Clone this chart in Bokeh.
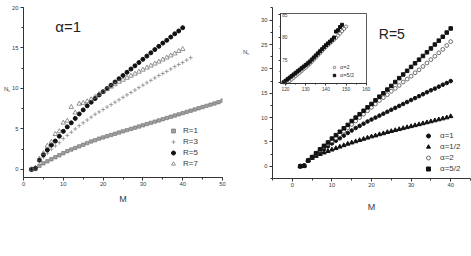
from bokeh.plotting import figure
from bokeh.models import (GridBox, Legend, LegendItem, Label, SingleIntervalTicker, Range1d, Div)
from bokeh.embed import file_html
from bokeh.resources import INLINE

FONT = "Liberation Sans"

# ---------------- Left panel: alpha = 1, several R ----------------
m_r1 = list(range(2, 51))
n_r1 = [0.0, 0.05, 0.45, 0.75, 1.0, 1.25, 1.5, 1.75, 2.0, 2.25,
        2.45, 2.65, 2.85, 3.05, 3.25, 3.45, 3.6, 3.8, 3.95, 4.1,
        4.25, 4.4, 4.55, 4.7, 4.85, 5.0, 5.15, 5.3, 5.45, 5.6,
        5.75, 5.9, 6.05, 6.2, 6.35, 6.5, 6.65, 6.8, 6.95, 7.1,
        7.25, 7.4, 7.55, 7.7, 7.85, 8.0, 8.15, 8.3, 8.5]
m_r3 = list(range(2, 43))
n_r3 = [0.0, 0.1, 1.0, 1.5, 2.0, 2.5, 2.9, 3.3, 3.8, 4.2,
        4.6, 5.0, 5.4, 5.75, 6.1, 6.45, 6.8, 7.1, 7.4, 7.7,
        8.0, 8.3, 8.6, 8.9, 9.2, 9.5, 9.8, 10.1, 10.4, 10.7,
        11.0, 11.3, 11.6, 11.85, 12.1, 12.4, 12.7, 12.95, 13.2, 13.5,
        13.8]
m_r5 = list(range(2, 41))
n_r5 = [0.0, 0.15, 1.15, 1.8, 2.4, 3.0, 3.5, 4.1, 4.7, 5.25,
        5.75, 6.3, 6.85, 7.35, 7.85, 8.3, 8.75, 9.2, 9.6, 10.0,
        10.4, 10.8, 11.2, 11.6, 12.0, 12.4, 12.8, 13.2, 13.6, 14.0,
        14.4, 14.8, 15.2, 15.6, 15.95, 16.35, 16.75, 17.1, 17.5]
m_r7 = list(range(2, 41))
n_r7 = [0.0, 0.2, 1.3, 2.0, 2.9, 3.4, 4.35, 4.7, 5.75, 6.0,
        7.7, 7.0, 8.1, 8.2, 8.4, 8.65, 8.95, 9.3, 9.6, 9.9,
        10.2, 10.5, 10.8, 11.05, 11.3, 11.55, 11.8, 12.05, 12.3, 12.55,
        12.8, 13.05, 13.3, 13.55, 13.8, 14.05, 14.3, 14.6, 14.85]

# ---------------- Right panel: R = 5, several alpha ----------------
m_a = list(range(2, 41))
n_a1 = [0.0, 0.15, 1.15, 1.8, 2.4, 3.0, 3.5, 4.1, 4.7, 5.25,
        5.75, 6.3, 6.85, 7.35, 7.85, 8.3, 8.75, 9.2, 9.6, 10.0,
        10.4, 10.8, 11.2, 11.6, 12.0, 12.4, 12.8, 13.2, 13.6, 14.0,
        14.4, 14.8, 15.2, 15.6, 15.95, 16.35, 16.75, 17.1, 17.5]
n_ahalf = [0.0, 0.1, 1.2, 1.7, 2.1, 2.5, 2.8, 3.1, 3.4, 3.7,
           4.0, 4.3, 4.6, 4.85, 5.1, 5.35, 5.6, 5.85, 6.1, 6.3,
           6.55, 6.75, 7.0, 7.2, 7.4, 7.6, 7.8, 8.0, 8.2, 8.4,
           8.6, 8.8, 9.0, 9.2, 9.4, 9.6, 9.8, 10.0, 10.25]
n_a2 = [0.0, 0.1, 1.2, 1.9, 2.6, 3.3, 4.0, 4.6, 5.2, 5.8,
        6.5, 7.2, 7.9, 8.6, 9.3, 10.0, 10.7, 11.4, 12.1, 12.8,
        13.5, 14.1, 14.7, 15.4, 16.0, 16.6, 17.3, 17.9, 18.5, 19.2,
        19.8, 20.5, 21.2, 21.9, 22.6, 23.3, 24.0, 24.8, 25.6]
n_a52 = [0.0, 0.1, 1.2, 1.9, 2.7, 3.5, 4.2, 4.9, 5.7, 6.4,
         7.1, 7.8, 8.5, 9.3, 10.0, 10.7, 11.4, 12.1, 12.8, 13.55,
         14.3, 15.0, 15.75, 16.5, 17.3, 18.1, 18.85, 19.6, 20.4, 21.15,
         21.9, 22.65, 23.4, 24.2, 25.0, 25.8, 26.6, 27.45, 28.3]

# ---------------- Inset ----------------
ins_x_sq = list(range(119, 149))
ins_y_sq = [70.1, 70.45, 70.8, 71.15, 71.5, 71.85, 72.2, 72.55, 72.9, 73.25,
            73.6, 73.95, 74.3, 74.7, 75.15, 75.6, 76.05, 76.5, 76.95, 77.4,
            77.85, 78.3, 78.7, 79.1, 79.5, 80.0, 81.3, 81.6, 82.3, 82.8]
ins_x_ci = list(range(121, 151))
ins_y_ci = [70.0, 70.4, 70.75, 71.1, 71.5, 71.85, 72.2, 72.6, 73.0, 73.35,
            73.75, 74.15, 74.6, 75.1, 75.55, 76.0, 76.5, 76.95, 77.45, 77.9,
            78.3, 78.7, 79.1, 79.5, 79.9, 80.4, 80.9, 81.4, 81.9, 82.4]

AX = "#333333"
TXT = "#3a3a3a"


def style(p, xint, yint, tick_font="5.8px", tick_out=3, minor_out=2, standoff=1):
    p.xgrid.visible = False
    p.ygrid.visible = False
    p.xaxis.ticker = SingleIntervalTicker(interval=xint, num_minor_ticks=2)
    p.yaxis.ticker = SingleIntervalTicker(interval=yint, num_minor_ticks=2)
    for ax in (p.xaxis[0], p.yaxis[0]):
        ax.axis_line_color = AX
        ax.axis_line_width = 1
        ax.major_tick_line_color = AX
        ax.minor_tick_line_color = AX
        ax.major_tick_out = tick_out
        ax.major_tick_in = 0
        ax.minor_tick_out = minor_out
        ax.minor_tick_in = 0
        ax.major_label_text_font = FONT
        ax.major_label_text_font_size = tick_font
        ax.major_label_text_color = TXT
        ax.major_label_standoff = standoff
        ax.axis_label_text_font = FONT
        ax.axis_label_text_font_style = "normal"
        ax.axis_label_text_color = TXT
    p.yaxis.major_label_standoff = 2


def make_legend(items, loc, font, gw, gh, standoff):
    leg = Legend(items=items, location=loc)
    leg.border_line_color = None
    leg.background_fill_alpha = 0
    leg.label_text_font = FONT
    leg.label_text_font_size = font
    leg.label_text_color = TXT
    leg.glyph_width = gw
    leg.glyph_height = gh
    leg.label_height = gh
    leg.label_standoff = standoff
    leg.spacing = 0
    leg.padding = 0
    leg.margin = 0
    return leg


def sub_label(left, top, size):
    return Div(text='N<span style="font-size:%.1fpx;vertical-align:-1px">c</span>' % (size * 0.7),
               width=12, height=10, margin=(top, 0, 0, left),
               styles={"font-family": FONT, "font-size": "%.1fpx" % size, "color": TXT,
                       "line-height": "1"})


# ---------- left figure (frame 23..222 x 7..177) ----------
p1 = figure(width=240, height=222, x_range=Range1d(0, 50), y_range=Range1d(-1, 20),
            output_backend="svg", toolbar_location=None, frame_align=False,
            min_border_left=23, min_border_right=18, min_border_top=7, min_border_bottom=45)
p1.outline_line_color = None
style(p1, 10, 5)
p1.xaxis.axis_label = "M"
p1.xaxis.axis_label_text_font_size = "9px"
p1.xaxis.axis_label_standoff = 5

g1 = p1.scatter(m_r1, n_r1, marker="square", size=3.4, fill_color="#a0a0a0", line_color="#6a6a6a", line_width=0.6)
g3 = p1.scatter(m_r3, n_r3, marker="cross", size=4, line_color="#8a8a8a", line_width=0.8)
g5 = p1.scatter(m_r5, n_r5, marker="circle", size=4, fill_color="#111111", line_color="#111111")
g7 = p1.scatter(m_r7, n_r7, marker="triangle", size=4.6, fill_color=None, line_color="#666666", line_width=0.7)

p1.add_layout(make_legend([LegendItem(label="R=1", renderers=[g1]),
                           LegendItem(label="R=3", renderers=[g3]),
                           LegendItem(label="R=5", renderers=[g5]),
                           LegendItem(label="R=7", renderers=[g7])],
                          (145, 8), "8px", 10, 11, 5))
p1.add_layout(Label(x=8, y=16.58, text="α=1", text_font=FONT, text_font_size="15px", text_color="#222222"))

# ---------- right figure (frame 272..470 x 7..178) ----------
p2 = figure(width=231, height=223, x_range=Range1d(-5, 45), y_range=Range1d(-2.5, 32.6),
            output_backend="svg", toolbar_location=None, frame_align=False,
            min_border_left=32, min_border_right=1, min_border_top=7, min_border_bottom=45,
            margin=(0, 0, 0, 240))
p2.outline_line_color = None
style(p2, 10, 5)
p2.xaxis.axis_label = "M"
p2.xaxis.axis_label_text_font_size = "9px"
p2.xaxis.axis_label_standoff = 12

h1 = p2.scatter(m_a, n_a1, marker="circle", size=3.6, fill_color="#111111", line_color="#111111")
hh = p2.scatter(m_a, n_ahalf, marker="triangle", size=4.4, fill_color="#111111", line_color="#111111")
h2 = p2.scatter(m_a, n_a2, marker="circle", size=3.8, fill_color="white", line_color="#333333", line_width=0.7)
h52 = p2.scatter(m_a, n_a52, marker="square", size=3.5, fill_color="#111111", line_color="#111111")

p2.add_layout(make_legend([LegendItem(label="α=1", renderers=[h1]),
                           LegendItem(label="α=1/2", renderers=[hh]),
                           LegendItem(label="α=2", renderers=[h2]),
                           LegendItem(label="α=5/2", renderers=[h52])],
                          (151, 4), "8px", 10, 11, 7))
p2.add_layout(Label(x=21.84, y=25.48, text="R=5", text_font=FONT, text_font_size="14px", text_color="#222222"))

# ---------- inset figure (frame 280..366 x 13..83) ----------
pi = figure(width=134, height=114, x_range=Range1d(117.5, 160.1), y_range=Range1d(69.85, 85.29),
            output_backend="svg", toolbar_location=None, frame_align=False,
            min_border_left=40, min_border_right=8, min_border_top=4, min_border_bottom=40,
            margin=(9, 0, 0, 240))
pi.outline_line_color = AX
pi.outline_line_width = 0.8
pi.border_fill_color = None
pi.background_fill_color = "white"
style(pi, 10, 5, tick_font="4.8px", tick_out=2, minor_out=1, standoff=1)
pi.yaxis.major_label_standoff = -9

k2 = pi.scatter(ins_x_ci, ins_y_ci, marker="circle", size=3.2, fill_color="white", line_color="#333333", line_width=0.6)
k52 = pi.scatter(ins_x_sq, ins_y_sq, marker="square", size=3.0, fill_color="#111111", line_color="#111111")
pi.add_layout(make_legend([LegendItem(label="α=2", renderers=[k2]),
                           LegendItem(label="α=5/2", renderers=[k52])],
                          (51, 4), "5.5px", 6, 8, 3))

nc_left = sub_label(4, 86, 6)
nc_right = sub_label(243, 49, 6)

layout = GridBox(children=[(p1, 0, 0), (p2, 0, 0), (pi, 0, 0), (nc_left, 0, 0), (nc_right, 0, 0)],
                 spacing=0)

open("out.html", "w").write(file_html(layout, INLINE))
